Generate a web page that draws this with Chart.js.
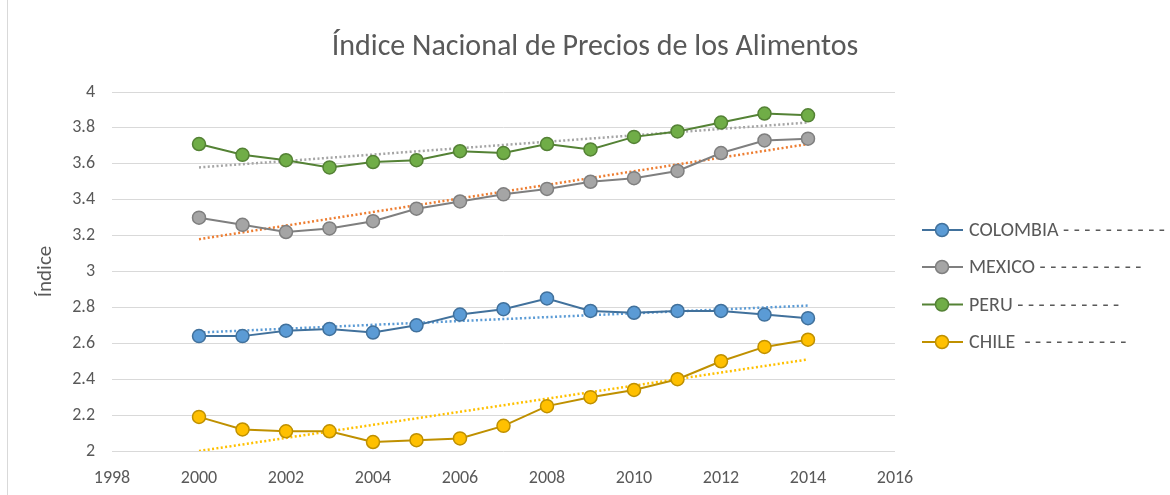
<!DOCTYPE html>
<html>
<head>
<meta charset="UTF-8">
<title>Índice Nacional de Precios de los Alimentos</title>
<script src="https://cdn.jsdelivr.net/npm/chart.js"></script>
<style>
  html, body { margin: 0; padding: 0; background: #fff; }
  .wrap { position: relative; width: 1170px; height: 495px; }
  .frame { position: absolute; left: 7px; top: 0; width: 1px; height: 495px; background: #d9d9d9; }
</style>
</head>
<body>
<div class="wrap">
  <canvas id="foodChart" width="1170" height="495"></canvas>
  <div class="frame"></div>
</div>
<script>
  // values
  const years = [2000, 2001, 2002, 2003, 2004, 2005, 2006, 2007, 2008, 2009, 2010, 2011, 2012, 2013, 2014];
  const colombia = [2.64, 2.64, 2.67, 2.68, 2.66, 2.70, 2.76, 2.79, 2.85, 2.78, 2.77, 2.78, 2.78, 2.76, 2.74];
  const mexico = [3.30, 3.26, 3.22, 3.24, 3.28, 3.35, 3.39, 3.43, 3.46, 3.50, 3.52, 3.56, 3.66, 3.73, 3.74];
  const peru = [3.71, 3.65, 3.62, 3.58, 3.61, 3.62, 3.67, 3.66, 3.71, 3.68, 3.75, 3.78, 3.83, 3.88, 3.87];
  const chile = [2.19, 2.12, 2.11, 2.11, 2.05, 2.06, 2.07, 2.14, 2.25, 2.30, 2.34, 2.40, 2.50, 2.58, 2.62];

  // trend line end points (first and last year)
  const trendYears = [2000, 2014];
  const colombiaTrend = [2.66, 2.81];
  const mexicoTrend = [3.18, 3.71];
  const peruTrend = [3.58, 3.83];
  const chileTrend = [2.00, 2.51];

  const seriesNames = [
    'COLOMBIA - - - - - - - - - -',
    'MEXICO - - - - - - - - - -',
    'PERU - - - - - - - - - -',
    'CHILE  - - - - - - - - - -'
  ];
  const yTicks = [2, 2.2, 2.4, 2.6, 2.8, 3, 3.2, 3.4, 3.6, 3.8, 4];
  const xTicks = [1998, 2000, 2002, 2004, 2006, 2008, 2010, 2012, 2014, 2016];
  const chartTitle = 'Índice Nacional de Precios de los Alimentos';

  const textColor = '#595959';
  const fontFamily = 'Carlito, Calibri, Lato, sans-serif';

  const pts = (xs, ys) => ys.map((v, i) => ({ x: xs[i], y: v }));

  function series(label, values, line, fill) {
    return {
      label: label,
      data: pts(years, values),
      borderColor: line,
      backgroundColor: fill,
      borderWidth: 2,
      pointRadius: 6.5,
      pointBorderWidth: 1.5,
      pointBorderColor: line,
      pointBackgroundColor: fill,
      tension: 0,
      order: 0
    };
  }

  function trend(values, color) {
    return {
      label: 'trend',
      data: pts(trendYears, values),
      borderColor: color,
      borderWidth: 2.5,
      borderDash: [2, 2.4],
      pointRadius: 0,
      fill: false,
      order: 5
    };
  }

  // title and legend drawn by hand so they sit where the original has them
  const sideLegend = {
    id: 'sideLegend',
    afterDraw(chart) {
      const ctx = chart.ctx;
      ctx.save();
      ctx.fillStyle = textColor;
      ctx.font = '30px ' + fontFamily;
      ctx.textAlign = 'center';
      ctx.textBaseline = 'middle';
      ctx.fillText(chartTitle, 595, 47);
      ctx.restore();

      const rows = [230, 267, 304.5, 342];
      chart.data.datasets.slice(0, 4).forEach((ds, i) => {
        const y = rows[i];
        ctx.save();
        ctx.strokeStyle = ds.borderColor;
        ctx.lineWidth = 2;
        ctx.beginPath();
        ctx.moveTo(922, y);
        ctx.lineTo(963, y);
        ctx.stroke();
        ctx.beginPath();
        ctx.arc(942, y, 6.5, 0, Math.PI * 2);
        ctx.fillStyle = ds.pointBackgroundColor;
        ctx.fill();
        ctx.lineWidth = 1.5;
        ctx.stroke();
        ctx.fillStyle = textColor;
        ctx.font = '20px ' + fontFamily;
        ctx.textBaseline = 'middle';
        ctx.fillText(ds.label, 969, y + 1);
        ctx.restore();
      });
    }
  };

  const ctx = document.getElementById('foodChart').getContext('2d');
  new Chart(ctx, {
    type: 'line',
    data: {
      datasets: [
        series(seriesNames[0], colombia, '#41719c', '#5b9bd5'),
        series(seriesNames[1], mexico, '#7f7f7f', '#a5a5a5'),
        series(seriesNames[2], peru, '#548235', '#70ad47'),
        series(seriesNames[3], chile, '#bf9000', '#ffc000'),
        trend(colombiaTrend, '#5b9bd5'),
        trend(mexicoTrend, '#ed7d31'),
        trend(peruTrend, '#a5a5a5'),
        trend(chileTrend, '#ffc000')
      ]
    },
    options: {
      responsive: false,
      animation: false,
      layout: { padding: { left: 0, right: 275, top: 92, bottom: 0 } },
      plugins: {
        legend: { display: false },
        tooltip: { enabled: false },
        title: { display: false }
      },
      scales: {
        x: {
          type: 'linear',
          min: xTicks[0],
          max: xTicks[xTicks.length - 1],
          afterBuildTicks: axis => { axis.ticks = xTicks.map(v => ({ value: v })); },
          afterFit: axis => { axis.height = 44; },
          grid: { display: false, drawTicks: false },
          border: { display: false },
          ticks: {
            color: textColor,
            padding: 17,
            maxRotation: 0,
            font: { family: fontFamily, size: 18 },
            callback: v => String(v)
          }
        },
        y: {
          min: yTicks[0],
          max: yTicks[yTicks.length - 1],
          afterBuildTicks: axis => { axis.ticks = yTicks.map(v => ({ value: v })); },
          afterFit: axis => { axis.width = 112; },
          grid: { color: '#d9d9d9', lineWidth: 1, drawTicks: false },
          border: { display: false },
          ticks: {
            color: textColor,
            padding: 17,
            font: { family: fontFamily, size: 18 },
            callback: v => String(v)
          },
          title: {
            display: true,
            text: 'Índice',
            color: textColor,
            font: { family: fontFamily, size: 21 },
            padding: { top: 33, bottom: 0 }
          }
        }
      }
    },
    plugins: [sideLegend]
  });
</script>
</body>
</html>
